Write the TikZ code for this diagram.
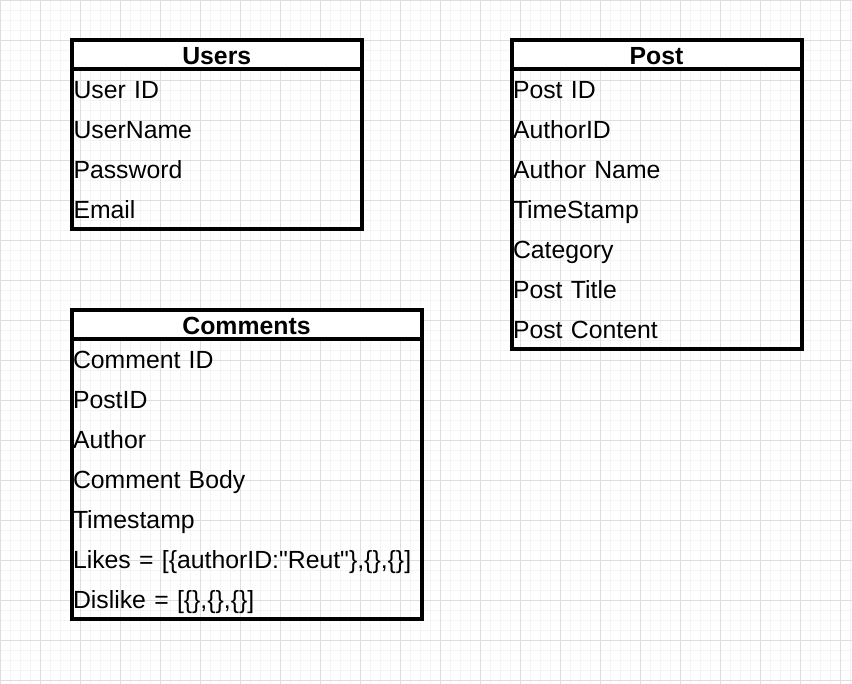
\documentclass[tikz,border=0pt]{standalone}
\usepackage{fontspec}
\setmainfont{Liberation Sans}[Ligatures=TeXReset]
\usepackage{tikz}
\usetikzlibrary{positioning}
\definecolor{minorline}{RGB}{244,244,244}
\definecolor{majorline}{RGB}{222,222,222}
\newcommand{\tablefont}{\fontsize{24.8}{28}\selectfont}
\tikzset{
	tablehead/.style={draw, fill=white, line width=4pt, inner sep=0pt, outer sep=0pt, minimum height=28.5pt, font=\tablefont\bfseries, text height=22pt, text depth=3pt},
	field/.style={inner ysep=0pt, inner xsep=1.5pt, outer sep=0pt, minimum height=40pt, align=left, font=\tablefont, text height=22pt, text depth=3pt},
	frame/.style={line width=4pt},
	minorgrid/.style={draw=minorline, line width=1pt},
	majorgrid/.style={draw=majorline, line width=1pt}
}
\begin{document}
\begin{tikzpicture}[x=1pt, y=1pt]
		\useasboundingbox[fill=white] (0,0) rectangle (852,-684);
		% background grid
		\foreach \i in {0,...,85} \draw[minorgrid] (\i*10+0.5,0) -- (\i*10+0.5,-684);
		\foreach \j in {0,...,68} \draw[minorgrid] (0,-\j*10-0.5) -- (852,-\j*10-0.5);
		\foreach \i in {0,...,21} \draw[majorgrid] (\i*40+0.5,0) -- (\i*40+0.5,-684);
		\foreach \j in {0,...,17} \draw[majorgrid] (0,-\j*40-0.5) -- (852,-\j*40-0.5);

		% Users
		\node[tablehead, minimum width=289.5pt, anchor=north west] (users-0) at (72,-40.5) {Users};
		\foreach \t [count=\i, remember=\i as \p (initially 0)] in {User ID, UserName, Password, Email}
			\node[field, text width=286.5pt, below=0pt of users-\p] (users-\i) {\t};
		\draw[frame] (users-0.north west) rectangle (users-4.south east);

		% Post
		\node[tablehead, minimum width=290pt, anchor=north west] (post-0) at (511.5,-40.5) {Post};
		\foreach \t [count=\i, remember=\i as \p (initially 0)] in {Post ID, AuthorID, Author Name, TimeStamp, Category, Post Title, Post Content}
			\node[field, text width=287pt, below=0pt of post-\p] (post-\i) {\t};
		\draw[frame] (post-0.north west) rectangle (post-7.south east);

		% Comments
		\node[tablehead, minimum width=350pt, anchor=north west] (comments-0) at (71.5,-310.5) {Comments};
		\foreach \t [count=\i, remember=\i as \p (initially 0)] in {Comment ID, PostID, Author, Comment Body, Timestamp, {Likes = [\{authorID:"Reut"\},\{\},\{\}]}, {Dislike = [\{\},\{\},\{\}]}}
			\node[field, text width=347pt, below=0pt of comments-\p] (comments-\i) {\t};
		\draw[frame] (comments-0.north west) rectangle (comments-7.south east);
	\end{tikzpicture}
\end{document}
